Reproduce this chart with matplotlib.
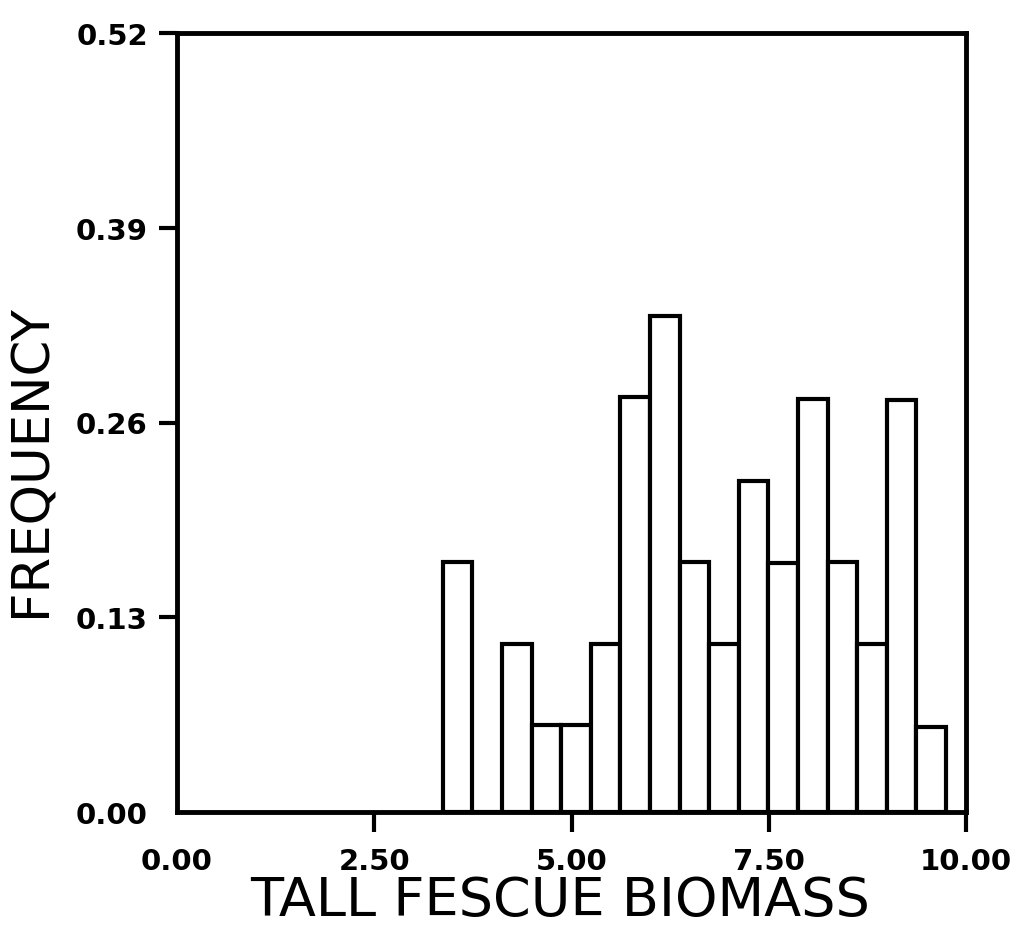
import numpy as np
import matplotlib.pyplot as plt

# histogram bins (left edges) and heights
bin_left = [3.37, 3.745, 4.12, 4.495, 4.87, 5.245, 5.62, 5.995, 6.37,
            6.745, 7.12, 7.495, 7.87, 8.245, 8.62, 8.995, 9.37]
bin_width = 0.375
freq = [0.167, 0.0, 0.112, 0.058, 0.058, 0.112, 0.277, 0.331, 0.167,
        0.112, 0.221, 0.166, 0.276, 0.167, 0.112, 0.275, 0.057]

xticks = [0.0, 2.5, 5.0, 7.5, 10.0]
xtick_labels = ['0.00', '2.50', '5.00', '7.50', '10.00']
yticks = [0.0, 0.13, 0.26, 0.39, 0.52]
ytick_labels = ['0.00', '0.13', '0.26', '0.39', '0.52']

fig = plt.figure(figsize=(10.11, 9.37), dpi=100)
W, H = 1011, 937
l, r, t, b = 177, 966, 34, 813
ax = fig.add_axes([l / W, 1 - b / H, (r - l) / W, (b - t) / H])

ax.bar(bin_left, freq, width=bin_width, align='edge',
       facecolor='white', edgecolor='black', linewidth=3)

ax.set_xlim(0, 10)
ax.set_ylim(0, 0.52)
ax.set_xticks(xticks)
ax.set_xticklabels(xtick_labels)
ax.set_yticks(yticks)
ax.set_yticklabels(ytick_labels)

for s in ax.spines.values():
    s.set_linewidth(3.5)

ax.tick_params(axis='both', direction='out', width=3, labelsize=21)
ax.tick_params(axis='x', length=14.5, pad=11)
ax.tick_params(axis='y', length=13, pad=8)
for lab in ax.get_xticklabels() + ax.get_yticklabels():
    lab.set_fontweight('bold')
ax.xaxis.get_major_ticks()[0].tick1line.set_visible(False)
ax.yaxis.get_major_ticks()[0].tick1line.set_visible(False)

fig.text(560 / W, 1 - 901 / H, 'TALL FESCUE BIOMASS', fontsize=39,
         ha='center', va='center')
fig.text(32 / W, 1 - 461 / H, 'FREQUENCY', fontsize=37, rotation=90,
         ha='center', va='center')

fig.savefig('out.png', dpi=100)
